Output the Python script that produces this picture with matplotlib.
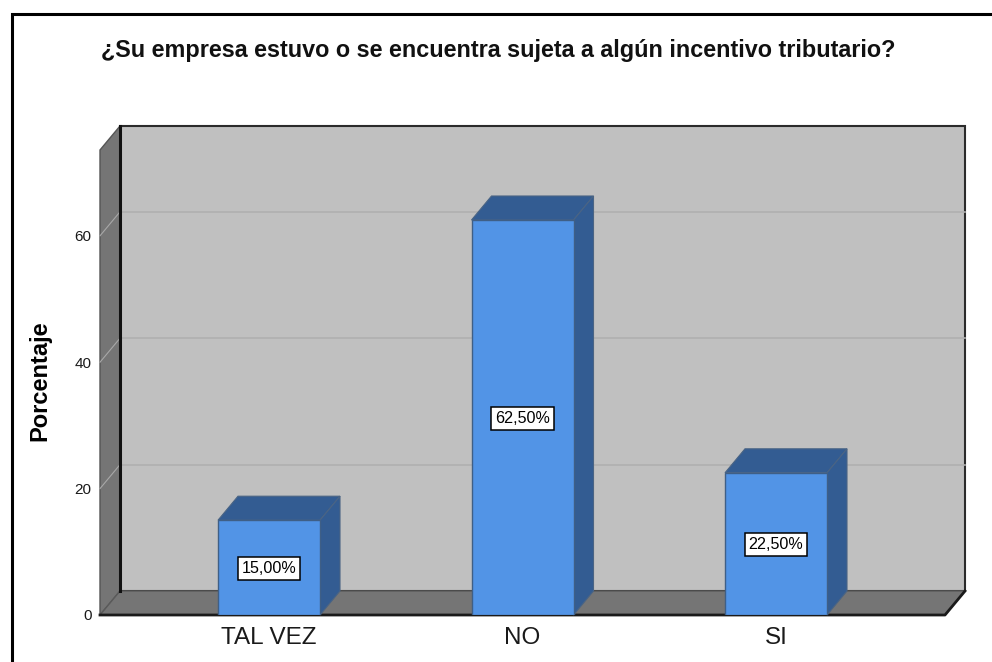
import matplotlib
matplotlib.use("Agg")
import matplotlib.pyplot as plt
from matplotlib.patches import Polygon

categories = ["TAL VEZ", "NO", "SI"]
percent = [15.0, 62.5, 22.5]
bar_labels = ["15,00%", "62,50%", "22,50%"]
y_ticks = [0, 20, 40, 60]
title = "¿Su empresa estuvo o se encuentra sujeta a algún incentivo tributario?"

W, H = 992, 662
PX_X = 253.5  # pixels per category step
PX_Y = 6.32  # pixels per percent
DEPTH_X = 20 / PX_X
DEPTH_Y = 24 / PX_Y
BAR_W = 102 / PX_X
X_MIN = (100 - 269) / PX_X
X_MAX = (945 - 269) / PX_X
Y_MAX = (615 - 150) / PX_Y

plt.rcParams["font.family"] = ["Liberation Sans", "DejaVu Sans"]

fig = plt.figure(figsize=(W / 100, H / 100), dpi=100)
fig.add_artist(plt.Line2D([11.5 / W, 11.5 / W, 1], [0, 1 - 14 / H, 1 - 14 / H],
                          color="black", lw=2.2, solid_joinstyle="miter"))

ax = fig.add_axes([100 / W, 1 - 615 / H, 845 / W, 465 / H])
ax.set_xlim(X_MIN, X_MAX)
ax.set_ylim(0, Y_MAX)
ax.patch.set_visible(False)
for s in ax.spines.values():
    s.set_visible(False)


def poly(pts, face, edge, lw=1.0, z=1):
    ax.add_patch(Polygon(pts, closed=True, facecolor=face, edgecolor=edge, lw=lw,
                         zorder=z, clip_on=False, joinstyle="miter"))


# back wall, side wall and floor
poly([(X_MIN + DEPTH_X, DEPTH_Y), (X_MAX + DEPTH_X, DEPTH_Y),
      (X_MAX + DEPTH_X, Y_MAX + DEPTH_Y), (X_MIN + DEPTH_X, Y_MAX + DEPTH_Y)],
     "#c0c0c0", "#2b2b2b", 1.5)
poly([(X_MIN, 0), (X_MIN + DEPTH_X, DEPTH_Y), (X_MIN + DEPTH_X, Y_MAX + DEPTH_Y), (X_MIN, Y_MAX)],
     "#757575", "#555555", 1.0, 2)
poly([(X_MIN, 0), (X_MIN + DEPTH_X, DEPTH_Y), (X_MAX + DEPTH_X, DEPTH_Y), (X_MAX, 0)],
     "#757575", "#5a5a5a", 1.0, 2)
ax.plot([X_MIN + DEPTH_X] * 2, [DEPTH_Y, Y_MAX + DEPTH_Y], color="#111111", lw=2.2, zorder=3,
        clip_on=False)
ax.plot([X_MIN, X_MAX, X_MAX + DEPTH_X], [0, 0, DEPTH_Y], color="#1a1a1a", lw=2.0, zorder=3,
        clip_on=False)

# grid lines on the back wall, with the slanted part on the side wall
for t in y_ticks[1:]:
    ax.plot([X_MIN + DEPTH_X, X_MAX + DEPTH_X], [t + DEPTH_Y] * 2, color="#b0b0b0", lw=1.2, zorder=1.5,
            clip_on=False)
    ax.plot([X_MIN, X_MIN + DEPTH_X], [t, t + DEPTH_Y], color="#a8a8a8", lw=0.8, zorder=2.5,
            clip_on=False)

# bars with their top and side faces
xs = list(range(len(categories)))
ax.bar(xs, percent, width=BAR_W, color="#5294e6", edgecolor="#3f5f86", lw=1.0, zorder=6)
for x, v, lab in zip(xs, percent, bar_labels):
    left = x - BAR_W / 2
    right = x + BAR_W / 2
    poly([(left, v), (left + DEPTH_X, v + DEPTH_Y), (right + DEPTH_X, v + DEPTH_Y), (right, v)],
         "#335c92", "#4a6484", 0.8, 5)
    poly([(right, 0), (right + DEPTH_X, DEPTH_Y), (right + DEPTH_X, v + DEPTH_Y), (right, v)],
         "#335c92", "#4a6484", 0.8, 5)
    ax.text(x, v / 2 - 0.15, lab, ha="center", va="center", fontsize=11.6, color="black", zorder=8,
            bbox=dict(boxstyle="square,pad=0.24", facecolor="white", edgecolor="black", lw=1.1))

ax.set_xticks(xs, categories)
ax.set_yticks(y_ticks)
ax.tick_params(axis="x", length=0, pad=9, labelsize=17.5, labelcolor="#1a1a1a")
ax.tick_params(axis="y", length=0, pad=6, labelsize=11, labelcolor="#1a1a1a")
ax.set_ylabel("Porcentaje", fontsize=17, fontweight="bold", labelpad=0)
ax.yaxis.set_label_coords((51 - 100) / 845, (615 - 381) / 465)

fig.text(498 / W, 1 - 50 / H, title, ha="center", va="center", fontsize=16.8, fontweight="bold",
         color="#111111")

fig.savefig("out.png", dpi=100)
